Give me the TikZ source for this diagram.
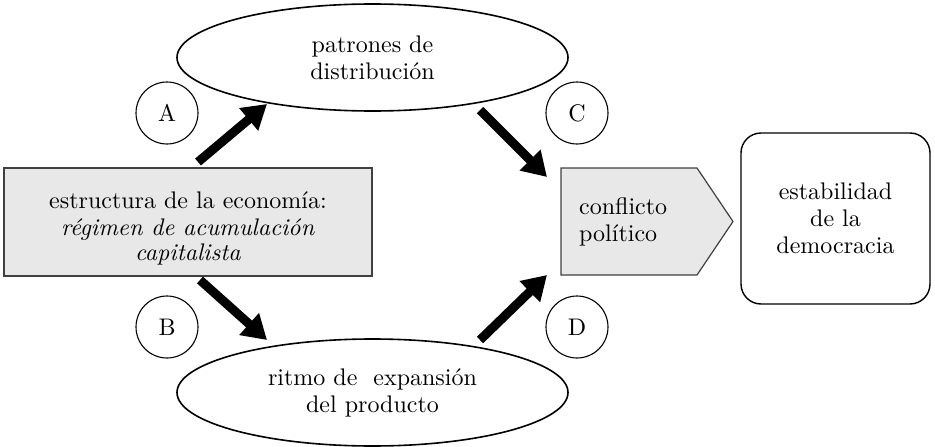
\documentclass[tikz,border=0pt]{standalone}
\usepackage{fontspec}
\setmainfont{lmroman10-regular.otf}[BoldFont=lmroman10-bold.otf, ItalicFont=lmroman10-italic.otf, BoldItalicFont=lmroman10-bolditalic.otf]
\usetikzlibrary{shapes.geometric,arrows.meta}
\begin{document}
\begin{tikzpicture}[x=1pt,y=-1pt,
  txt/.style={font=\fontsize{24}{27}\selectfont, align=center},
  oval/.style={ellipse, draw, line width=1.6pt, minimum width=391pt, minimum height=107pt, inner sep=0pt, txt},
  graybox/.style={draw=black!75, fill=black!9, line width=1.4pt},
  lettercircle/.style={circle, draw, line width=1.1pt, minimum size=62pt, inner sep=0pt, font=\fontsize{24}{27}\selectfont},
  bigarrow/.style={line width=9pt, -{Triangle[length=24pt,width=28pt]}}
]
\useasboundingbox (0,0) rectangle (935,447);

% ellipses
\node[oval] (dist) at (372.5,57.5) {patrones de\\distribución};
\node[oval] (ritmo) at (372.5,392.5) {ritmo de\ \ expansión\\del producto};

% economy box
\node[graybox, minimum width=368pt, minimum height=108pt, inner sep=0pt] (econ) at (188,222) {};
\node[txt, inner sep=0pt] (econtxt) at (188,228) {estructura de la economía:\\\textit{régimen de acumulación}\\[-2pt]\textit{capitalista}};

% conflict pentagon
\coordinate (p1) at (561,168);
\coordinate (p2) at (697,168);
\coordinate (p3) at (733,221.5);
\coordinate (p4) at (697,275);
\coordinate (p5) at (561,275);
\draw[graybox, line width=1.2pt] (p1) -- (p2) -- (p3) -- (p4) -- (p5) -- cycle;
\node[txt, align=left, anchor=west, inner sep=0pt] (conf) at (579,221.5) {conflicto\\político};

% stability box
\node[draw, line width=1.4pt, rounded corners=20pt, minimum width=189pt, minimum height=171pt, inner sep=0pt, txt] (estab) at (835.5,218.5) {estabilidad\\de la\\democracia};

% letter circles
\node[lettercircle] (A) at (167,113) {A};
\node[lettercircle] (B) at (167,327) {B};
\node[lettercircle] (C) at (577,113) {C};
\node[lettercircle] (D) at (577,327) {D};

% arrows
\coordinate (a0) at (198,162); \coordinate (a1) at (267,104);
\coordinate (b0) at (200,280); \coordinate (b1) at (267,340);
\coordinate (c0) at (480,110); \coordinate (c1) at (547,177);
\coordinate (d0) at (480,340); \coordinate (d1) at (547,275);
\draw[bigarrow] (a0) -- (a1);
\draw[bigarrow] (b0) -- (b1);
\draw[bigarrow] (c0) -- (c1);
\draw[bigarrow] (d0) -- (d1);
\end{tikzpicture}
\end{document}
